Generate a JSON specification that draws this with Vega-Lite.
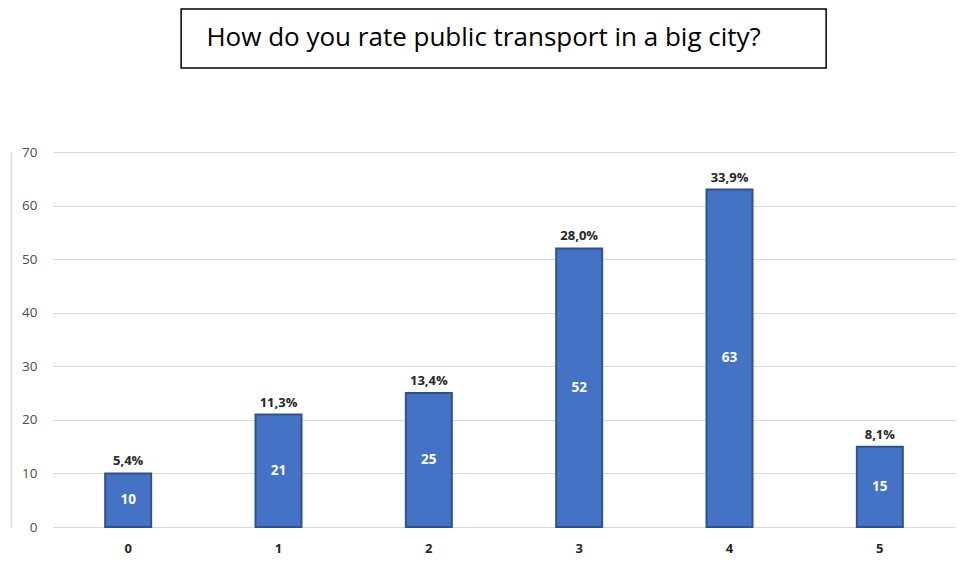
{
  "$schema": "https://vega.github.io/schema/vega-lite/v6.json",
  "padding": {"left": 11, "top": 8, "right": 2, "bottom": 5},
  "config": {"view": {"stroke": null}, "font": "Open Sans"},
  "data": {"values": [
    {"rating": "0", "count": 10, "pct": "5,4%"},
    {"rating": "1", "count": 21, "pct": "11,3%"},
    {"rating": "2", "count": 25, "pct": "13,4%"},
    {"rating": "3", "count": 52, "pct": "28,0%"},
    {"rating": "4", "count": 63, "pct": "33,9%"},
    {"rating": "5", "count": 15, "pct": "8,1%"}
  ]},
  "center": true,
  "spacing": 76,
  "vconcat": [
    {
      "width": 645,
      "height": 59,
      "view": {"stroke": "black", "strokeWidth": 1.5, "fill": "white"},
      "data": {"values": [{"title": "How do you rate public transport in a big city?"}]},
      "mark": {"type": "text", "font": "Open Sans", "fontSize": 26, "color": "black", "dx": -20, "dy": -1, "baseline": "middle", "align": "center"},
      "encoding": {"text": {"field": "title", "type": "nominal"}}
    },
    {
      "width": 902,
      "height": 375,
      "transform": [{"calculate": "datum.count / 2", "as": "mid"}],
      "encoding": {
        "x": {
          "field": "rating", "type": "ordinal",
          "scale": {"paddingInner": 0.694, "paddingOuter": 0.347},
          "axis": {"title": null, "labelAngle": 0, "domainColor": "#d9d9d9", "domainWidth": 1.2, "ticks": false, "labelPadding": 15, "labelFontWeight": "bold", "labelColor": "#262626", "labelFontSize": 13}
        }
      },
      "layer": [
        {
          "mark": {"type": "bar", "color": "#4472C4", "stroke": "#2F528F", "strokeWidth": 2},
          "encoding": {
            "y": {
              "field": "count", "type": "quantitative",
              "scale": {"domain": [0, 70]},
              "axis": {"title": null, "values": [0, 10, 20, 30, 40, 50, 60, 70], "offset": 42, "domainColor": "#d9d9d9", "domainWidth": 1.5, "ticks": false, "labelPadding": -26, "labelColor": "#4d4d4d", "labelFontSize": 13.5, "gridColor": "#d9d9d9", "gridWidth": 1.2}
            }
          }
        },
        {
          "mark": {"type": "text", "baseline": "bottom", "dy": -5, "fontWeight": "bold", "fontSize": 13, "color": "#262626"},
          "encoding": {
            "y": {"field": "count", "type": "quantitative"},
            "text": {"field": "pct", "type": "nominal"}
          }
        },
        {
          "mark": {"type": "text", "baseline": "middle", "fontWeight": "bold", "fontSize": 13.5, "color": "white"},
          "encoding": {
            "y": {"field": "mid", "type": "quantitative"},
            "text": {"field": "count", "type": "quantitative"}
          }
        }
      ]
    }
  ]
}
